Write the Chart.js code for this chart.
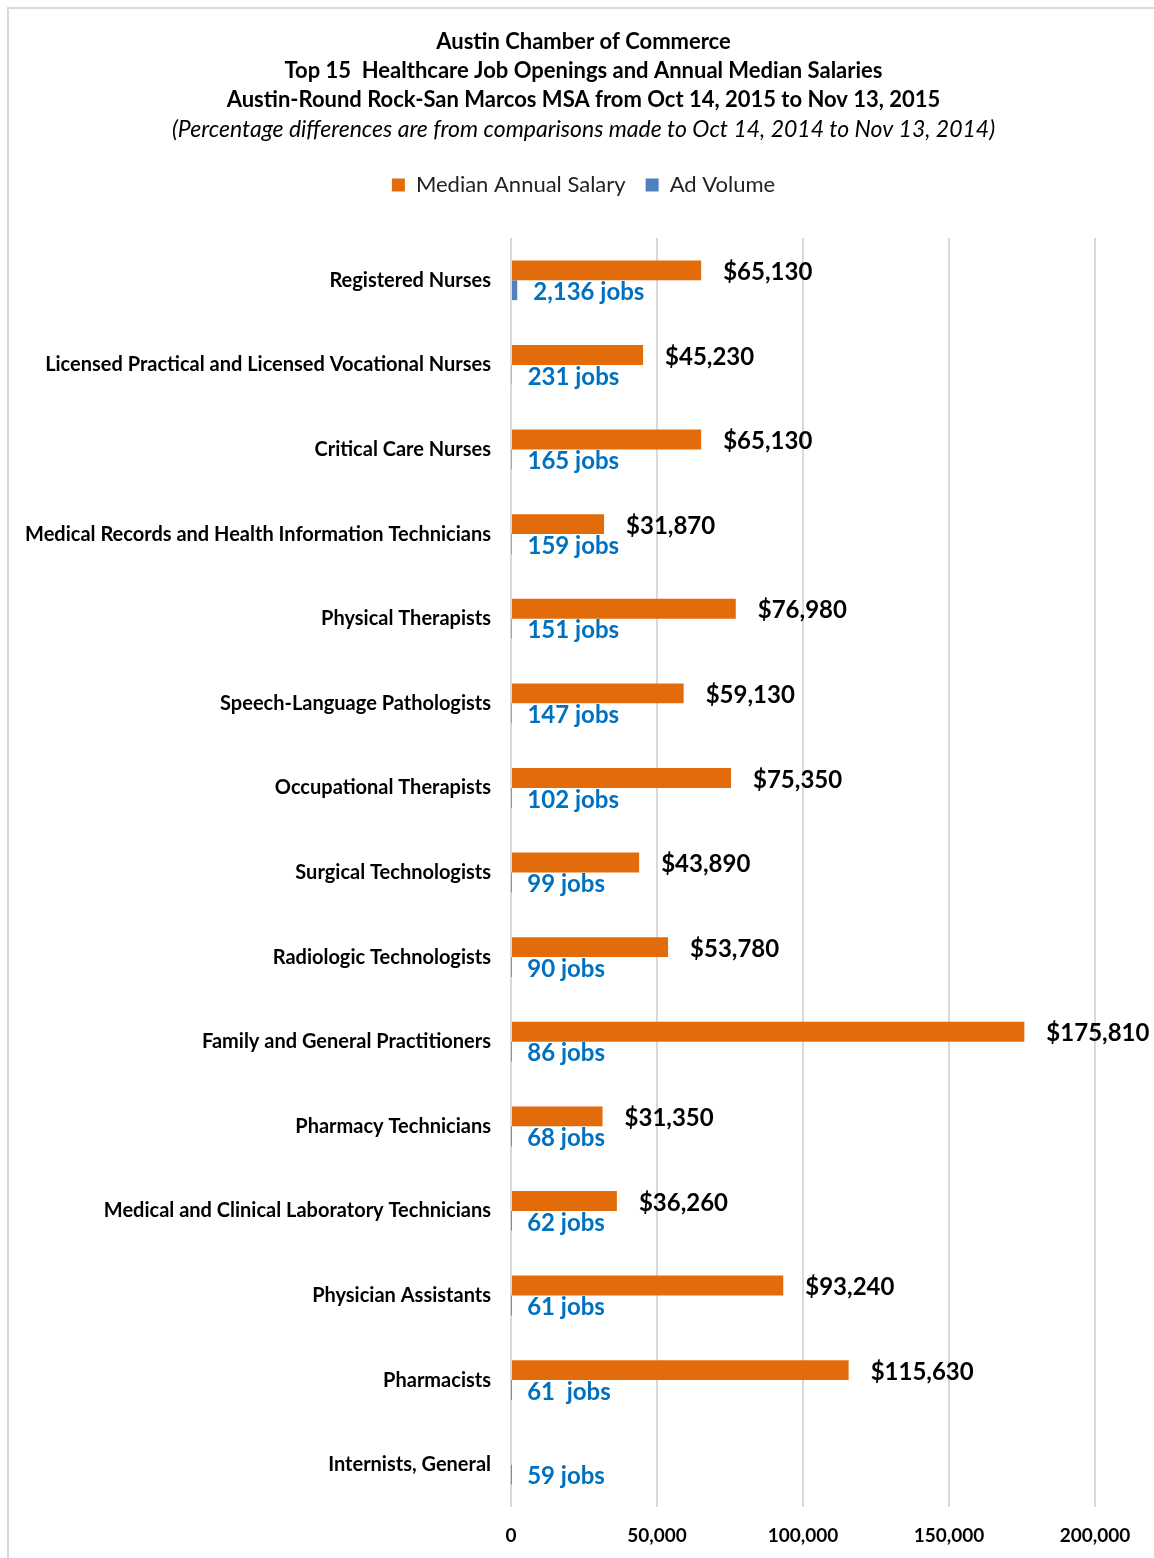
<!DOCTYPE html>
<html>
<head>
<meta charset="utf-8">
<script src="https://cdn.jsdelivr.net/npm/chart.js@4"></script>
<style>
  body { margin: 0; background: #fff; }
  #frame { position: absolute; left: 7px; top: 7px; width: 1160px; height: 1560px; border: 2px solid #d9d9d9; }
  #wrap { position: absolute; left: 0; top: 0; width: 1154px; height: 1558px; }
</style>
</head>
<body>
<div id="frame"></div>
<div id="wrap"><canvas id="myChart"></canvas></div>
<script>
// data
const jobTitles = [
  'Registered Nurses',
  'Licensed Practical and Licensed Vocational Nurses',
  'Critical Care Nurses',
  'Medical Records and Health Information Technicians',
  'Physical Therapists',
  'Speech-Language Pathologists',
  'Occupational Therapists',
  'Surgical Technologists',
  'Radiologic Technologists',
  'Family and General Practitioners',
  'Pharmacy Technicians',
  'Medical and Clinical Laboratory Technicians',
  'Physician Assistants',
  'Pharmacists',
  'Internists, General'
];
const medianSalary = [65130, 45230, 65130, 31870, 76980, 59130, 75350, 43890, 53780, 175810, 31350, 36260, 93240, 115630, null];
const adVolume = [2136, 231, 165, 159, 151, 147, 102, 99, 90, 86, 68, 62, 61, 61, 59];
const salaryLabels = ['$65,130', '$45,230', '$65,130', '$31,870', '$76,980', '$59,130', '$75,350', '$43,890', '$53,780', '$175,810', '$31,350', '$36,260', '$93,240', '$115,630', ''];
const jobLabels = ['2,136 jobs', '231 jobs', '165 jobs', '159 jobs', '151 jobs', '147 jobs', '102 jobs', '99 jobs', '90 jobs', '86 jobs', '68 jobs', '62 jobs', '61 jobs', '61  jobs', '59 jobs'];
const xTicks = [0, 50000, 100000, 150000, 200000];

const FONT = 'Lato';

// draws the value labels next to each bar
const barLabels = {
  id: 'barLabels',
  afterDatasetsDraw(chart) {
    const ctx = chart.ctx;
    const x0 = chart.scales.x.getPixelForValue(0);
    ctx.save();
    ctx.textBaseline = 'middle';
    ctx.textAlign = 'left';
    chart.getDatasetMeta(0).data.forEach((bar, i) => {
      if (!salaryLabels[i]) return;
      ctx.font = 'bold 24px ' + FONT;
      ctx.fillStyle = '#000';
      ctx.fillText(salaryLabels[i], bar.x + 22, bar.y + 2);
    });
    chart.getDatasetMeta(1).data.forEach((bar, i) => {
      ctx.font = 'bold 24px ' + FONT;
      ctx.fillStyle = '#0070c0';
      ctx.fillText(jobLabels[i], Math.max(bar.x, x0) + 16, bar.y + 2);
    });
    ctx.restore();
  }
};

// extra room under the legend, and title/legend centred on the whole frame
const headerLayout = {
  id: 'headerLayout',
  beforeInit(chart) {
    const fit = chart.legend.fit;
    chart.legend.fit = function () {
      fit.bind(chart.legend)();
      this.height += 32;
    };
  },
  afterLayout(chart) {
    chart.boxes.forEach(b => {
      if (b.position === 'top' && !b.axis) {
        b.left += 36;
        b.right += 36;
      }
    });
  }
};

const ctx = document.getElementById('myChart').getContext('2d');
const myChart = new Chart(ctx, {
  type: 'bar',
  data: {
    labels: jobTitles,
    datasets: [{
      label: 'Median Annual Salary',
      data: medianSalary,
      backgroundColor: '#e36c0a',
      borderWidth: 0
    }, {
      label: 'Ad Volume',
      data: adVolume,
      backgroundColor: '#4f81bd',
      borderWidth: 0
    }]
  },
  options: {
    indexAxis: 'y',
    responsive: true,
    maintainAspectRatio: false,
    animation: false,
    datasets: {
      bar: { barPercentage: 1, categoryPercentage: 0.47 }
    },
    layout: { padding: { left: 0, right: 59, top: 23, bottom: 0 } },
    plugins: {
      title: {
        display: true,
        text: ['Austin Chamber of Commerce', 'Top 15  Healthcare Job Openings and Annual Median Salaries', 'Austin-Round Rock-San Marcos MSA from Oct 14, 2015 to Nov 13, 2015'],
        color: '#000',
        font: { family: FONT, size: 22, weight: 'bold', lineHeight: 1.33 },
        padding: { top: 4, bottom: 0 }
      },
      subtitle: {
        display: true,
        text: '(Percentage differences are from comparisons made to Oct 14, 2014 to Nov 13, 2014)',
        color: '#000',
        font: { family: FONT, size: 23, style: 'italic', lineHeight: 1.27 },
        padding: { top: 0, bottom: 10 }
      },
      legend: {
        position: 'top',
        labels: {
          color: '#222',
          font: { family: FONT, size: 22 },
          boxWidth: 13,
          boxHeight: 13,
          padding: 20
        }
      },
      tooltip: { enabled: false }
    },
    scales: {
      x: {
        min: 0,
        max: 200000,
        afterBuildTicks: (scale) => { scale.ticks = xTicks.map(v => ({ value: v })); },
        afterFit: (scale) => { scale.height = 51; },
        grid: { color: '#d9d9d9', lineWidth: 2, drawTicks: false },
        border: { display: false },
        ticks: {
          color: '#000',
          padding: 17,
          maxRotation: 0,
          font: { family: FONT, size: 19, weight: 'bold' },
          callback: (v) => v.toLocaleString('en-US')
        }
      },
      y: {
        grid: { display: false, drawTicks: false },
        border: { display: false },
        afterFit: (scale) => { scale.width = 511; },
        ticks: {
          color: '#000',
          padding: 20,
          font: { family: FONT, size: 20, weight: 'bold' }
        }
      }
    }
  },
  plugins: [barLabels, headerLayout]
});
</script>
</body>
</html>
